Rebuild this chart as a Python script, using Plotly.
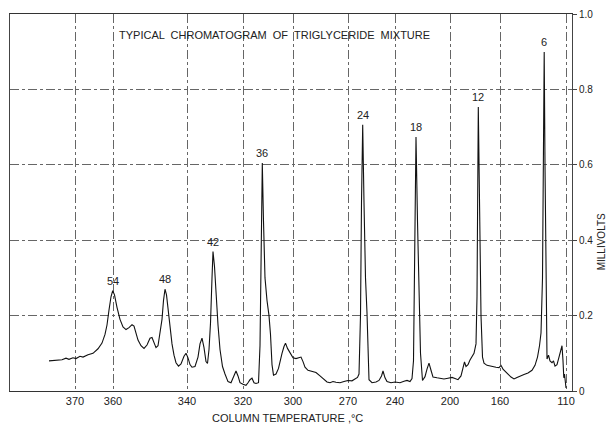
import plotly.graph_objects as go

# Retention position along the chart (arbitrary chart units, left to right) and detector signal (mV)
position = [3.9, 4.5, 5.2, 5.6, 5.9, 6.3, 6.6, 7.0, 7.3, 7.8, 8.3, 8.8, 9.2, 9.5, 9.7, 9.9, 10.1, 10.27,
            10.45, 10.7, 11.0, 11.3, 11.6, 11.9, 12.2, 12.4, 12.6, 12.8, 13.1, 13.4, 13.7, 14.0, 14.2, 14.4,
            14.6, 14.8, 15.0, 15.2, 15.35, 15.5, 15.65, 15.8, 16.0, 16.2, 16.4, 16.6, 16.85, 17.1, 17.4, 17.6,
            17.8, 18.0, 18.2, 18.5, 18.8, 19.0, 19.2, 19.4, 19.6, 19.75, 19.9, 20.05, 20.2, 20.3, 20.45, 20.6,
            20.8, 21.0, 21.25, 21.5, 21.8, 22.1, 22.3, 22.6, 22.8, 23.0, 23.3, 23.6, 23.8, 24.0, 24.2, 24.4,
            24.6, 24.85, 25.0, 25.1, 25.23, 25.35, 25.5, 25.7, 25.9, 26.05, 26.2, 26.35, 26.6, 26.85, 27.05,
            27.2, 27.4, 27.55, 27.75, 28.0, 28.3, 28.6, 28.9, 29.1, 29.3, 29.5, 29.8, 30.2, 30.6, 31.0, 31.4,
            31.7, 32.0, 32.3, 32.6, 33.0, 33.4, 33.8, 34.2, 34.5, 34.75, 34.9, 35.05, 35.15, 35.27, 35.4,
            35.55, 35.7, 35.8, 35.9, 36.2, 36.6, 36.9, 37.15, 37.3, 37.5, 37.7, 38.1, 38.5, 39.0, 39.4, 39.7,
            40.0, 40.2, 40.35, 40.45, 40.6, 40.75, 40.9, 41.05, 41.25, 41.5, 41.7, 41.9, 42.1, 42.3, 42.7,
            43.0, 43.4, 43.8, 44.2, 44.5, 44.8, 45.1, 45.3, 45.45, 45.6, 45.8, 46.0, 46.2, 46.4, 46.6, 46.7,
            46.83, 46.95, 47.1, 47.25, 47.4, 47.7, 48.0, 48.3, 48.6, 48.9, 49.1, 49.3, 49.5, 49.8, 50.1, 50.4,
            50.7, 51.0, 51.4, 51.8, 52.2, 52.5, 52.75, 52.95, 53.1, 53.25, 53.35, 53.42, 53.5, 53.6, 53.7,
            53.85, 54.0, 54.2, 54.35, 54.5, 54.7, 54.9, 55.05, 55.2, 55.3, 55.38, 55.45, 55.55, 55.6]
millivolts = [0.080, 0.082, 0.083, 0.087, 0.084, 0.088, 0.086, 0.092, 0.090, 0.096, 0.100, 0.112, 0.127,
              0.150, 0.175, 0.215, 0.250, 0.266, 0.255, 0.222, 0.190, 0.170, 0.163, 0.168, 0.176, 0.172,
              0.155, 0.135, 0.120, 0.113, 0.122, 0.140, 0.142, 0.128, 0.115, 0.120, 0.150, 0.190, 0.240,
              0.270, 0.255, 0.220, 0.165, 0.125, 0.095, 0.075, 0.066, 0.072, 0.092, 0.100, 0.088, 0.070,
              0.063, 0.065, 0.090, 0.125, 0.140, 0.115, 0.078, 0.073, 0.110, 0.180, 0.300, 0.370, 0.330,
              0.250, 0.175, 0.110, 0.065, 0.045, 0.025, 0.022, 0.035, 0.053, 0.040, 0.022, 0.018, 0.015,
              0.022, 0.030, 0.034, 0.022, 0.020, 0.022, 0.120, 0.350, 0.605, 0.450, 0.300, 0.240, 0.200,
              0.150, 0.070, 0.042, 0.045, 0.060, 0.085, 0.100, 0.118, 0.127, 0.113, 0.100, 0.088, 0.086,
              0.088, 0.090, 0.078, 0.063, 0.055, 0.052, 0.049, 0.040, 0.030, 0.024, 0.022, 0.025, 0.023,
              0.022, 0.025, 0.028, 0.027, 0.031, 0.036, 0.045, 0.200, 0.500, 0.706, 0.500, 0.300, 0.207,
              0.100, 0.030, 0.022, 0.024, 0.028, 0.040, 0.053, 0.035, 0.025, 0.022, 0.024, 0.022, 0.026,
              0.028, 0.025, 0.033, 0.080, 0.350, 0.674, 0.450, 0.230, 0.100, 0.028, 0.038, 0.058, 0.074,
              0.055, 0.037, 0.035, 0.034, 0.032, 0.034, 0.036, 0.033, 0.030, 0.040, 0.060, 0.077, 0.065,
              0.070, 0.082, 0.090, 0.100, 0.125, 0.250, 0.753, 0.500, 0.200, 0.090, 0.074, 0.068, 0.066,
              0.063, 0.063, 0.062, 0.068, 0.058, 0.052, 0.045, 0.037, 0.032, 0.036, 0.040, 0.044, 0.048,
              0.055, 0.068, 0.090, 0.120, 0.154, 0.300, 0.600, 0.899, 0.600, 0.250, 0.085, 0.095, 0.080,
              0.075, 0.080, 0.066, 0.070, 0.090, 0.110, 0.120, 0.080, 0.035, 0.045, 0.015, 0.008]

# Peak labels (carbon number) at peak tops
peak_labels = ["54", "48", "42", "36", "24", "18", "12", "6"]
peak_position = [10.27, 15.5, 20.3, 25.23, 35.27, 40.6, 46.83, 53.42]
peak_height = [0.266, 0.270, 0.370, 0.605, 0.706, 0.674, 0.753, 0.899]

# Temperature scale (non-linear in chart position)
temp_tick_pos = [6.5, 10.3, 17.7, 23.3, 28.3, 33.8, 38.5, 44.0, 49.0, 55.6]
temp_tick_text = ["370", "360", "340", "320", "300", "270", "240", "200", "160", "110"]

mv_tick_vals = [0, 0.2, 0.4, 0.6, 0.8, 1.0]
mv_tick_text = ["0", "0.2", "0.4", "0.6", "0.8", "1.0"]

FONT = "Liberation Sans"
INK = "#222"

fig = go.Figure()
fig.add_trace(go.Scatter(x=position, y=millivolts, mode="lines",
                         line=dict(color="#111", width=1.1), showlegend=False,
                         hoverinfo="skip"))

for lab, px, py in zip(peak_labels, peak_position, peak_height):
    fig.add_annotation(x=px, y=py, text=lab, showarrow=False, yanchor="bottom",
                       yshift=2, font=dict(family=FONT, size=11, color=INK))

fig.add_annotation(xref="paper", yref="paper", x=0.19, y=0.944, xanchor="left",
                   yanchor="middle", showarrow=False,
                   text="TYPICAL  CHROMATOGRAM  OF  TRIGLYCERIDE  MIXTURE",
                   font=dict(family=FONT, size=11, color=INK))
fig.add_annotation(xref="paper", yref="paper", x=0.493, y=-0.072, xanchor="center",
                   yanchor="middle", showarrow=False, text="COLUMN TEMPERATURE ,°C",
                   font=dict(family=FONT, size=11, color=INK))
fig.add_annotation(xref="paper", yref="paper", x=1.052, y=0.395, xanchor="center",
                   yanchor="middle", showarrow=False, text="MILLIVOLTS", textangle=-90,
                   font=dict(family=FONT, size=10, color=INK))

fig.update_layout(
    width=610, height=424,
    margin=dict(l=10, r=38, t=14, b=33, autoexpand=False),
    paper_bgcolor="white", plot_bgcolor="white",
    font=dict(family=FONT, size=11, color=INK),
    xaxis=dict(range=[0, 56.2], tickmode="array", tickvals=temp_tick_pos,
               ticktext=temp_tick_text, showgrid=True, gridcolor="#666",
               griddash="dashdot", gridwidth=1, zeroline=False, showline=True,
               linecolor="#333", linewidth=1, mirror=True, ticks="",
               automargin=False,
               tickfont=dict(family=FONT, size=11, color=INK)),
    yaxis=dict(range=[0, 1.0], side="right", tickmode="array", tickvals=mv_tick_vals,
               ticktext=mv_tick_text, showgrid=True, gridcolor="#666",
               griddash="dashdot", gridwidth=1, zeroline=False, showline=True,
               linecolor="#444", linewidth=1, mirror=True, ticks="outside",
               ticklen=4, tickcolor="#444", automargin=False,
               tickfont=dict(family=FONT, size=10, color=INK)),
)

fig.write_html("out.html", config={"displayModeBar": False},
               post_script="document.body.style.margin='0';document.body.style.overflow='hidden';")
